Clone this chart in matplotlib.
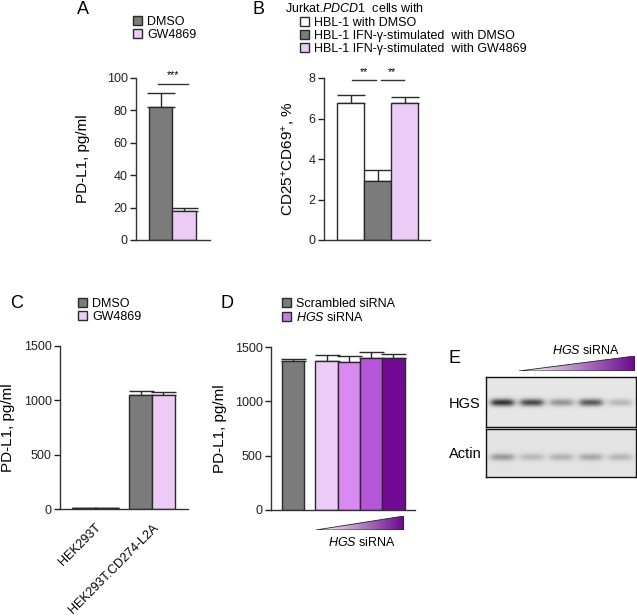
import numpy as np
import matplotlib
matplotlib.use("Agg")
import matplotlib.pyplot as plt
from matplotlib.patches import Patch, Polygon

plt.rcParams['font.family'] = ['Liberation Sans', 'DejaVu Sans']
plt.rcParams['mathtext.fontset'] = 'custom'
plt.rcParams['mathtext.rm'] = 'Liberation Sans'
plt.rcParams['mathtext.it'] = 'Liberation Sans:italic'
plt.rcParams['mathtext.bf'] = 'Liberation Sans:bold'

# ---------------- data ----------------
a_labels = ["DMSO", "GW4869"]
a_values = [82, 18]
a_err = [9, 2]

b_labels = ["HBL-1 with DMSO", "HBL-1 IFN-\u03b3-stimulated  with DMSO",
            "HBL-1 IFN-\u03b3-stimulated  with GW4869"]
b_values = [6.75, 2.9, 6.75]
b_err = [0.4, 0.55, 0.3]

c_groups = ["HEK293T", "HEK293T.CD274-L2A"]
c_dmso = [8, 1045]
c_dmso_err = [3, 45]
c_gw = [10, 1050]
c_gw_err = [3, 25]

d_labels = ["Scrambled siRNA", "HGS siRNA"]
d_values = [1370, 1370, 1360, 1400, 1400]
d_err = [20, 60, 55, 55, 40]

e_hgs = [0.70, 0.62, 0.32, 0.55, 0.18]
e_actin = [0.30, 0.17, 0.20, 0.24, 0.18]

C_GRAY = "#7b7b7b"
C_PINK = "#eccbf6"
C_WHITE = "#ffffff"
D_COLORS = ["#7b7b7b", "#eccbf6", "#d98af2", "#b556d8", "#720a93"]
EDGE = "#2a2a2a"

W, H = 637, 616
fig = plt.figure(figsize=(W / 100, H / 100), dpi=100)


def rect(l, t, r, b):
    return [l / W, 1 - b / H, (r - l) / W, (b - t) / H]


def fx(x):
    return x / W


def fy(y):
    return 1 - y / H


def style(ax, yticks, ylim):
    for s in ["top", "right"]:
        ax.spines[s].set_visible(False)
    for s in ["left", "bottom"]:
        ax.spines[s].set_linewidth(1.0)
        ax.spines[s].set_color("#333333")
    ax.set_ylim(*ylim)
    ax.set_yticks(yticks)
    ax.tick_params(axis="y", length=4, width=1.0, labelsize=9, pad=2, colors="#222222")
    ax.tick_params(axis="x", length=0)
    ax.spines["left"].set_bounds(ylim[0], ylim[1])


def ylabel(ax, text, xpix, l, r):
    ax.set_ylabel(text, fontsize=11)
    ax.yaxis.set_label_coords((xpix - l) / (r - l), 0.5)


def uerr(ax, x, v, e, cap):
    ax.errorbar(x, v, yerr=[np.zeros(len(v)), e], fmt="none", ecolor=EDGE,
                elinewidth=1.0, capsize=cap, capthick=1.0, zorder=1)


def leg(ax, handles, labels, xpix, ypix, fs=9, spacing=0.08):
    ax.legend(handles, labels, loc="upper left", bbox_to_anchor=(fx(xpix), fy(ypix)),
              bbox_transform=fig.transFigure, frameon=False, fontsize=fs,
              handlelength=0.75, handleheight=0.75, handletextpad=0.4,
              labelspacing=spacing, borderpad=0, borderaxespad=0)


def grad_triangle(l, t, r, b, c_end):
    tax = fig.add_axes(rect(l, t, r, b))
    tax.set_axis_off()
    tax.set_xlim(0, 1)
    tax.set_ylim(0, 1)
    g = np.linspace(0, 1, 256)[None, :]
    cmap = matplotlib.colors.LinearSegmentedColormap.from_list("g", ["#ffffff", c_end])
    im = tax.imshow(g, extent=[0, 1, 0, 1], aspect="auto", cmap=cmap, origin="lower")
    poly = Polygon([[0, 0], [1, 0], [1, 1]], closed=True, transform=tax.transData,
                   facecolor="none", edgecolor="#222222", lw=0.6)
    tax.add_patch(poly)
    im.set_clip_path(poly)
    return tax


# ---------------- Panel A ----------------
lA, rA = 136, 210
axA = fig.add_axes(rect(lA, 78, rA, 240))
xa = np.arange(len(a_values))
axA.bar(xa, a_values, width=1.0, color=[C_GRAY, C_PINK], edgecolor=EDGE, linewidth=1.0, zorder=2)
uerr(axA, xa, a_values, a_err, 10)
axA.set_xlim(-1.04, 2.1)
style(axA, [0, 20, 40, 60, 80, 100], (0, 100))
axA.set_xticks([])
ylabel(axA, "PD-L1, pg/ml", 90, lA, rA)
axA.plot([-0.11, 1.17], [96.3, 96.3], color="#333333", lw=1.0, clip_on=False)
axA.text(0.53, 98.5, "***", ha="center", va="bottom", fontsize=7.5, clip_on=False)
leg(axA, [Patch(facecolor=C_GRAY, edgecolor=EDGE), Patch(facecolor=C_PINK, edgecolor=EDGE)],
    a_labels, 133, 16)
fig.text(fx(83), fy(10), "A", fontsize=13, ha="center", va="center")

# ---------------- Panel B ----------------
lB, rB = 324, 430
axB = fig.add_axes(rect(lB, 78, rB, 240))
xb = np.arange(len(b_values))
axB.bar(xb, b_values, width=1.0, color=[C_WHITE, C_GRAY, C_PINK], edgecolor=EDGE,
        linewidth=1.0, zorder=2)
uerr(axB, xb, b_values, b_err, 10)
axB.set_xlim(-1.0, 2.93)
style(axB, [0, 2, 4, 6, 8], (0, 8))
axB.set_xticks([])
ylabel(axB, "CD25$^{+}$CD69$^{+}$, %", 297, lB, rB)
for x0, x1 in [(0.04, 0.93), (1.11, 1.96)]:
    axB.plot([x0, x1], [7.9, 7.9], color="#333333", lw=1.0, clip_on=False)
    axB.text((x0 + x1) / 2, 8.05, "**", ha="center", va="bottom", fontsize=7.5, clip_on=False)
leg(axB, [Patch(facecolor=c, edgecolor=EDGE) for c in [C_WHITE, C_GRAY, C_PINK]],
    b_labels, 300, 17)
fig.text(fx(285), fy(9), "Jurkat.$\\it{PDCD1}$  cells with", fontsize=9, ha="left", va="center")
fig.text(fx(258), fy(10), "B", fontsize=13, ha="center", va="center")

# ---------------- Panel C ----------------
lC, rC = 60, 188
axC = fig.add_axes(rect(lC, 346, rC, 509))
xc = np.arange(len(c_groups))
bw = 0.4
axC.bar(xc - bw / 2, c_dmso, width=bw, color=C_GRAY, edgecolor=EDGE, linewidth=1.0, zorder=2)
axC.bar(xc + bw / 2, c_gw, width=bw, color=C_PINK, edgecolor=EDGE, linewidth=1.0, zorder=2)
uerr(axC, xc - bw / 2, c_dmso, c_dmso_err, 9)
uerr(axC, xc + bw / 2, c_gw, c_gw_err, 9)
axC.set_xlim(-0.614, 1.63)
style(axC, [0, 500, 1000, 1500], (0, 1500))
axC.set_xticks(xc)
axC.set_xticklabels(c_groups, rotation=45, ha="right", va="top", fontsize=9,
                    rotation_mode="anchor")
axC.tick_params(axis="x", pad=9)
ylabel(axC, "PD-L1, pg/ml", 15, lC, rC)
leg(axC, [Patch(facecolor=C_GRAY, edgecolor=EDGE), Patch(facecolor=C_PINK, edgecolor=EDGE)],
    a_labels, 78, 298)
fig.text(fx(17), fy(304), "C", fontsize=13, ha="center", va="center")

# ---------------- Panel D ----------------
lD, rD = 271, 415
axD = fig.add_axes(rect(lD, 347, rD, 510))
xd = np.array([0, 1.5, 2.5, 3.5, 4.5])
axD.bar(xd, d_values, width=1.0, color=D_COLORS, edgecolor=EDGE, linewidth=1.0, zorder=2)
uerr(axD, xd, d_values, d_err, 9)
axD.set_xlim(-0.99, 5.47)
style(axD, [0, 500, 1000, 1500], (0, 1500))
axD.set_xticks([])
ylabel(axD, "PD-L1, pg/ml", 227, lD, rD)
leg(axD, [Patch(facecolor=C_GRAY, edgecolor=EDGE), Patch(facecolor="#c37fe3", edgecolor=EDGE)],
    [d_labels[0], "$\\it{HGS}$ siRNA"], 282, 298)
fig.text(fx(227), fy(304), "D", fontsize=13, ha="center", va="center")
grad_triangle(316, 516, 404, 530, "#6a0a8c")
fig.text(fx(362), fy(542), "$\\it{HGS}$ siRNA", fontsize=9, ha="center", va="center")

# ---------------- Panel E (blot) ----------------
fig.text(fx(455), fy(358), "E", fontsize=13, ha="center", va="center")
grad_triangle(519, 356, 635, 371, "#6a0a8c")
fig.text(fx(620), fy(351), "$\\it{HGS}$ siRNA", fontsize=9, ha="right", va="center")


def blot(ax, intens, band_y, sig_y, h, w, bg):
    yy = np.arange(h)[:, None]
    xx = np.arange(w)[None, :]
    img = np.full((h, w), bg, dtype=float)
    for i, a in enumerate(intens):
        cx = 16 + i * 29.5
        half = 11
        px = 1 / (1 + np.exp(-(xx - (cx - half)) / 2.0)) * 1 / (1 + np.exp((xx - (cx + half)) / 2.0))
        py = np.exp(-0.5 * ((yy - band_y) / sig_y) ** 2)
        img = img - a * px * py
    ax.imshow(img, cmap="gray", vmin=0, vmax=1, aspect="auto", interpolation="bilinear")
    ax.set_xticks([])
    ax.set_yticks([])
    for s in ax.spines.values():
        s.set_linewidth(1.0)
        s.set_color("#111111")


axE1 = fig.add_axes(rect(486, 377, 636, 427))
blot(axE1, e_hgs, 25, 2.6, 50, 150, 0.90)
axE2 = fig.add_axes(rect(486, 429, 636, 477))
blot(axE2, e_actin, 28, 2.4, 48, 150, 0.89)
fig.text(fx(449), fy(404), "HGS", fontsize=10.5, ha="left", va="center")
fig.text(fx(449), fy(454), "Actin", fontsize=10.5, ha="left", va="center")

fig.savefig("out.png", dpi=100)
